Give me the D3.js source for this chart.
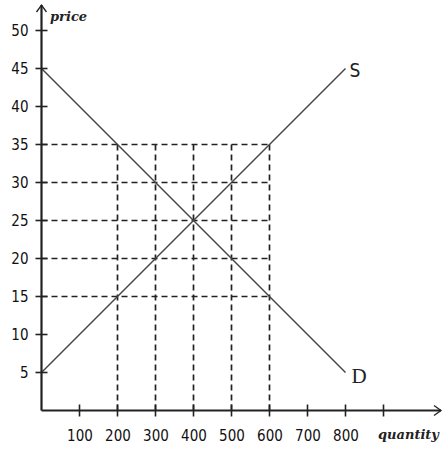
<!DOCTYPE html>
<html><head><meta charset="utf-8">
<script src="https://cdn.jsdelivr.net/npm/d3@7"></script>
<style>body{margin:0;background:#fff}svg{display:block}</style>
</head><body>
<script>
const priceTicks = [5,10,15,20,25,30,35,40,45,50];
const quantityTicks = [100,200,300,400,500,600,700,800,900];
const quantityLabels = ["100","200","300","400","500","600","700","800",""];
const gridPrices = [15,20,25,30,35];
const gridQuantities = [200,300,400,500,600];
const supply = [{q:0,p:5},{q:800,p:45}];
const demand = [{q:0,p:45},{q:800,p:5}];

const W=445,H=449;
const svg=d3.select("body").append("svg").attr("width",W).attr("height",H);
const x=d3.scaleLinear().domain([0,800]).range([41.5,345.5]);
const y=d3.scaleLinear().domain([0,50]).range([410.5,30.5]);
const col="#222";

// grid dashed
const g=svg.append("g").attr("stroke",col).attr("stroke-width",1.7).attr("stroke-dasharray","6,4").attr("fill","none");
gridPrices.forEach(p=>g.append("line").attr("x1",x(0)).attr("x2",x(600)).attr("y1",y(p)).attr("y2",y(p)));
gridQuantities.forEach(q=>g.append("line").attr("x1",x(q)).attr("x2",x(q)).attr("y1",y(0)).attr("y2",y(35)));

// supply/demand
const line=d3.line().x(d=>x(d.q)).y(d=>y(d.p));
svg.append("path").datum(supply).attr("d",line).attr("stroke","#444").attr("stroke-width",1.4).attr("fill","none");
svg.append("path").datum(demand).attr("d",line).attr("stroke","#444").attr("stroke-width",1.4).attr("fill","none");

// axes
const ax=svg.append("g").attr("stroke","#222").attr("stroke-width",2.2).attr("fill","none");
ax.append("line").attr("x1",x(0)).attr("x2",x(0)).attr("y1",y(0)).attr("y2",5);
ax.append("line").attr("x1",x(0)).attr("x2",441).attr("y1",y(0)).attr("y2",y(0));
ax.append("path").attr("d",`M${x(0)-5},12 L${x(0)},5 L${x(0)+5},12`).attr("stroke-width",1.3);
ax.append("path").attr("d",`M434,${y(0)-5} L441,${y(0)} L434,${y(0)+5}`).attr("stroke-width",1.3);
priceTicks.forEach(p=>ax.append("line").attr("x1",x(0)-6).attr("x2",x(0)+6).attr("y1",y(p)).attr("y2",y(p)).attr("stroke-width",1.6));
quantityTicks.forEach(q=>ax.append("line").attr("x1",x(q)).attr("x2",x(q)).attr("y1",y(0)-6).attr("y2",y(0)+6).attr("stroke-width",1.6));

// labels
const t=svg.append("g").attr("fill","#111").attr("font-family","'DejaVu Sans Condensed','DejaVu Sans',sans-serif").attr("font-size",15);
priceTicks.forEach(p=>t.append("text").attr("x",x(0)-13).attr("y",y(p)).attr("dy","0.36em").attr("text-anchor","end").text(p));
quantityTicks.forEach((q,i)=>t.append("text").attr("x",x(q)+0.5).attr("y",441).attr("text-anchor","middle").text(quantityLabels[i]));
svg.append("text").attr("x",50).attr("y",21).attr("font-family","'DejaVu Serif',serif").attr("font-style","italic").attr("font-weight","bold").attr("font-size",13).attr("fill","#222").text("price");
svg.append("text").attr("x",378).attr("y",439).attr("font-family","'DejaVu Serif',serif").attr("font-style","italic").attr("font-weight","bold").attr("font-size",13).attr("fill","#222").text("quantity");
svg.append("text").attr("x",x(800)+4).attr("y",y(45)+8).attr("font-family","'DejaVu Sans Condensed','DejaVu Sans',sans-serif").attr("font-size",19).attr("fill","#222").text("S");
svg.append("text").attr("x",x(800)+6).attr("y",y(5)+10).attr("font-family","'Liberation Serif',serif").attr("font-size",21).attr("fill","#222").text("D");
</script>
</body></html>
